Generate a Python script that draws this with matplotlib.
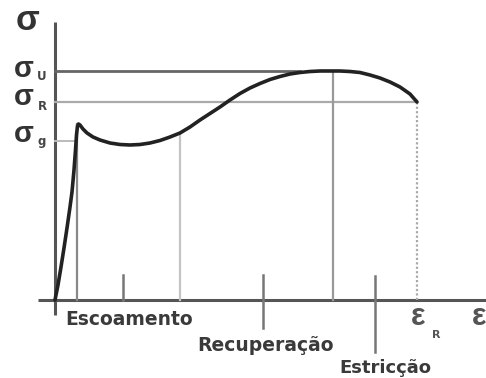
import matplotlib
matplotlib.use("Agg")
import matplotlib.pyplot as plt

# Stress-strain curve (arbitrary units)
strain = [0, 3, 6, 9, 12, 15, 17, 19, 20.5, 21.5, 22.5, 23.5, 25, 28, 32, 38,
          45, 55, 65, 75, 85, 95, 105, 115, 125, 135, 145, 155, 165, 175,
          185, 195, 205, 215, 225, 235, 245, 255, 265, 275, 285, 295, 305,
          315, 325, 335, 345, 355, 362]
stress = [0, 15, 33, 52, 72, 93, 108, 130, 150, 165, 174, 176, 175, 171, 167,
          163, 160, 157, 155.5, 155, 155.5, 157, 159.5, 163, 167, 173, 180,
          186.5, 193, 200, 206.5, 212, 216.5, 220.5, 223.5, 226, 227.5, 228.5,
          229, 229, 229, 228.5, 227.5, 225, 222, 218, 213, 206, 198]

sigma_u = 229
sigma_R = 198
sigma_g = 159
eps_yield_end = 22
eps_rec_start = 125
eps_u = 278
eps_R = 362
eps_sigma_u_end = 245
eps_sigma_g_end = 20

tick_pos = [68, 208, 320]
tick_low = [0, -28, -52]
tick_high = [25, 25, 24]

region_labels = ["Escoamento", "Recuperação", "Estricção"]

fig = plt.figure(figsize=(4.86, 3.78), dpi=100)
ax = fig.add_axes([0, 0, 1, 1])
ax.set_xlim(-55, 431)
ax.set_ylim(-78, 300)
ax.axis("off")

font = ["DejaVu Sans"]
sfont = ["Liberation Sans", "DejaVu Sans"]

# axes
ax.plot([0, 0], [-15, 278], color="#555555", lw=2.2, solid_capstyle="butt")
ax.plot([-17, 431], [0, 0], color="#555555", lw=2.2, solid_capstyle="butt")

# reference lines
ax.plot([0, eps_sigma_u_end], [sigma_u, sigma_u], color="#666666", lw=2.0)
ax.plot([0, eps_R], [sigma_R, sigma_R], color="#aaaaaa", lw=1.6)
ax.plot([0, eps_sigma_g_end], [sigma_g, sigma_g], color="#bbbbbb", lw=1.4)

ax.plot([eps_yield_end, eps_yield_end], [0, 176], color="#888888", lw=1.6)
ax.plot([eps_rec_start, eps_rec_start], [0, 167], color="#c4c4c4", lw=1.6)
ax.plot([eps_u, eps_u], [0, sigma_u], color="#999999", lw=1.6)
ax.plot([eps_R, eps_R], [0, sigma_R], color="#aaaaaa", lw=1.6, ls=(0, (1, 1)))

for x, lo, hi in zip(tick_pos, tick_low, tick_high):
    ax.plot([x, x], [lo, hi], color="#777777", lw=1.8)

# curve
ax.plot(strain, stress, color="#222222", lw=2.6, solid_joinstyle="round",
        solid_capstyle="round")

# labels
ax.text(-28, 270, "σ", fontsize=25, ha="center", va="baseline",
        family=sfont, color="#333333", fontweight="bold")
for y, sub, ys in [(223, "U", 220), (195, "R", 190), (158, "g", 155)]:
    ax.text(-31, y, "σ", fontsize=21, ha="center", va="baseline",
            family=sfont, color="#333333", fontweight="bold")
    ax.text(-13, ys, sub, fontsize=8.5, ha="center", va="baseline",
            family=font, color="#444444", fontweight="bold")

ax.text(74, -25, region_labels[0], fontsize=13.5, ha="center", va="baseline",
        family=font, color="#3a3a3a", fontweight="bold")
ax.text(210, -51, region_labels[1], fontsize=13.5, ha="center", va="baseline",
        family=font, color="#3a3a3a", fontweight="bold")
ax.text(330, -73, region_labels[2], fontsize=13, ha="center", va="baseline",
        family=font, color="#3a3a3a", fontweight="bold")

ax.text(363, -25, "ε", fontsize=22, ha="center", va="baseline",
        family=sfont, color="#555555", fontweight="bold")
ax.text(381, -38, "R", fontsize=8, ha="center", va="baseline",
        family=font, color="#555555", fontweight="bold")
ax.text(417, -25, "ε", fontsize=22, ha="left", va="baseline",
        family=sfont, color="#555555", fontweight="bold")

fig.savefig("out.png", dpi=100)
